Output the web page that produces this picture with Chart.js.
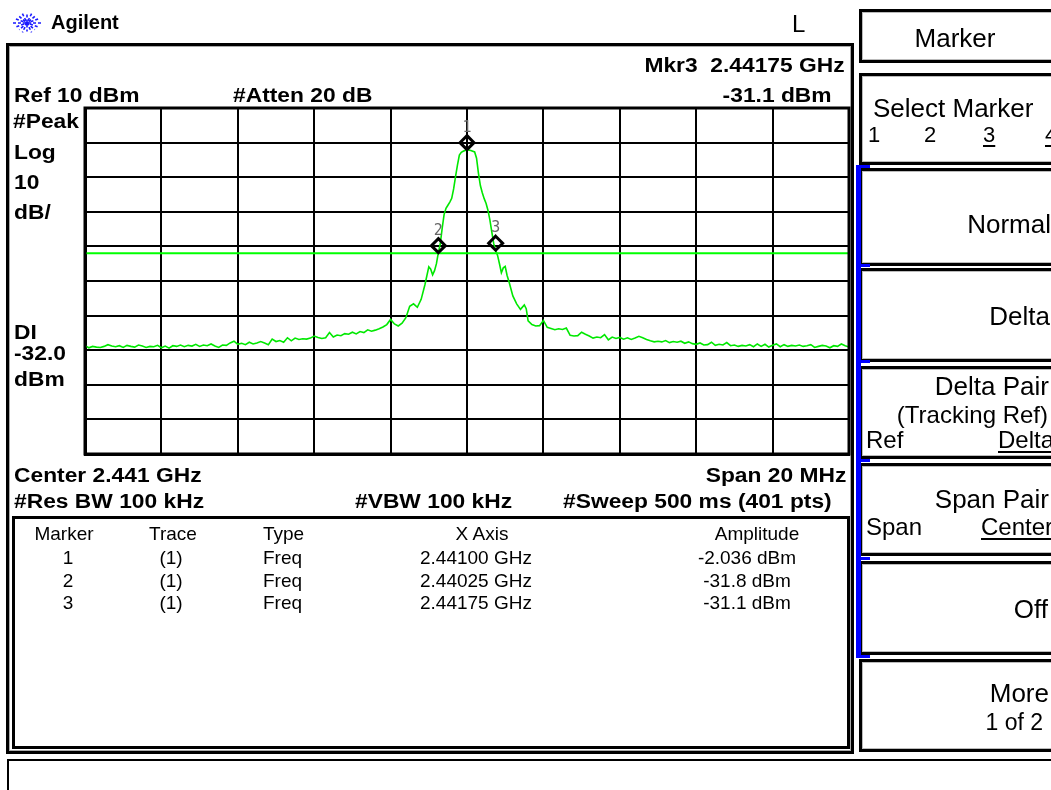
<!DOCTYPE html>
<html>
<head>
<meta charset="utf-8">
<script src="https://cdn.jsdelivr.net/npm/chart.js@4/dist/chart.umd.min.js"></script>
<style>
  html, body { margin: 0; padding: 0; background: #fff; }
  body { width: 1051px; height: 790px; overflow: hidden; position: relative; font-family: "Liberation Sans", Arial, sans-serif; }
  .box { position: absolute; box-sizing: border-box; }
  .t { position: absolute; white-space: pre; color: #000; }
  canvas#c { position: absolute; left: 0; top: 0; z-index: 2; }
</style>
</head>
<body>
<script>
// ---------------- DATA ----------------
const centerMHz = 2441.0;
const spanMHz = 20;
const refLevelDbm = 10;
const dbPerDiv = 10;
const displayLineDbm = -32.0;

const traceFreqMHz = [
  2431.0,2431.1,2431.2,2431.3,2431.4,2431.5,2431.6,2431.7,2431.8,2431.9,
  2432.0,2432.1,2432.2,2432.3,2432.4,2432.5,2432.6,2432.7,2432.8,2432.9,
  2433.0,2433.1,2433.2,2433.3,2433.4,2433.5,2433.6,2433.7,2433.8,2433.9,
  2434.0,2434.1,2434.2,2434.3,2434.4,2434.5,2434.6,2434.7,2434.8,2434.9,
  2435.0,2435.1,2435.2,2435.3,2435.4,2435.5,2435.6,2435.7,2435.8,2435.9,
  2436.0,2436.1,2436.2,2436.3,2436.4,2436.5,2436.6,2436.7,2436.8,2436.9,
  2437.0,2437.1,2437.2,2437.3,2437.4,2437.5,2437.6,2437.7,2437.8,2437.9,
  2438.0,2438.1,2438.2,2438.3,2438.4,2438.5,2438.6,2438.7,2438.8,2438.9,
  2439.0,2439.1,2439.2,2439.3,2439.4,2439.5,2439.6,2439.7,2439.8,2439.9,
  2440.0,2440.05,2440.1,2440.15,2440.2,2440.25,2440.3,2440.35,2440.4,2440.45,2440.5,2440.55,2440.6,2440.65,2440.7,2440.75,2440.8,2440.85,2440.9,
  2441.0,2441.1,2441.2,2441.25,2441.3,2441.35,2441.4,2441.45,2441.5,2441.55,2441.6,2441.65,2441.7,2441.75,2441.8,2441.85,2441.9,2441.95,
  2442.0,2442.05,2442.1,2442.2,2442.3,2442.4,2442.5,2442.55,2442.6,2442.7,2442.8,2442.9,
  2443.0,2443.1,2443.2,2443.3,2443.4,2443.5,2443.6,2443.7,2443.8,2443.9,
  2444.0,2444.1,2444.2,2444.3,2444.4,2444.5,2444.6,2444.7,2444.8,2444.9,
  2445.0,2445.1,2445.2,2445.3,2445.4,2445.5,2445.6,2445.7,2445.8,2445.9,
  2446.0,2446.1,2446.2,2446.3,2446.4,2446.5,2446.6,2446.7,2446.8,2446.9,
  2447.0,2447.1,2447.2,2447.3,2447.4,2447.5,2447.6,2447.7,2447.8,2447.9,
  2448.0,2448.1,2448.2,2448.3,2448.4,2448.5,2448.6,2448.7,2448.8,2448.9,
  2449.0,2449.1,2449.2,2449.3,2449.4,2449.5,2449.6,2449.7,2449.8,2449.9,
  2450.0,2450.1,2450.2,2450.3,2450.4,2450.5,2450.6,2450.7,2450.8,2450.9,
  2451.0
];
const traceLevelDbm = [
  -58.7,-59.3,-58.9,-59.1,-59.2,-58.9,-58.4,-58.8,-59.0,-58.7,
  -59.2,-58.6,-58.9,-59.1,-58.5,-58.8,-59.2,-58.9,-59.0,-58.6,
  -59.3,-58.8,-59.4,-58.7,-58.9,-58.5,-59.0,-58.6,-58.8,-58.3,
  -58.9,-58.5,-58.7,-58.2,-58.8,-59.2,-58.5,-58.6,-57.9,-57.4,
  -58.3,-58.0,-58.4,-57.7,-58.2,-57.9,-57.5,-57.9,-58.4,-56.8,
  -57.5,-57.2,-57.7,-56.4,-57.3,-56.5,-56.9,-56.7,-56.8,-56.5,
  -55.9,-56.3,-56.6,-56.4,-54.9,-56.2,-55.6,-55.8,-55.2,-55.4,
  -54.8,-55.3,-54.6,-54.9,-54.1,-54.5,-54.2,-53.8,-53.3,-52.6,
  -51.1,-52.4,-53.0,-52.2,-50.6,-47.3,-46.6,-47.6,-45.3,-41.0,
  -35.9,-36.6,-38.2,-37.0,-35.0,-31.8,-29.3,-24.8,-20.8,-19.0,-18.1,-17.2,-16.1,-13.4,-9.8,-6.5,-3.6,-2.8,-2.5,
  -2.04,-2.3,-2.7,-4.5,-8.9,-12.4,-14.5,-16.2,-17.6,-19.6,-22.4,-25.9,-29.2,-31.1,-32.6,-35.0,-37.6,-36.2,
  -35.8,-38.4,-40.2,-44.3,-46.6,-48.2,-46.9,-48.0,-51.5,-52.6,-53.0,-52.9,
  -51.4,-53.4,-53.7,-54.1,-53.8,-54.0,-53.6,-55.7,-55.9,-55.8,
  -54.8,-55.4,-55.9,-56.5,-56.2,-56.4,-55.5,-57.0,-56.2,-56.6,
  -56.3,-56.8,-56.4,-56.9,-56.5,-56.0,-56.4,-56.9,-57.3,-57.6,
  -57.4,-57.6,-57.2,-57.8,-57.5,-57.7,-57.4,-58.0,-57.6,-58.1,
  -58.3,-57.9,-58.5,-58.4,-57.7,-58.6,-58.3,-58.5,-57.8,-58.7,
  -58.5,-58.9,-58.6,-58.8,-58.4,-59.0,-58.2,-58.9,-58.3,-59.1,
  -58.6,-58.2,-59.0,-58.4,-58.9,-58.6,-58.8,-58.5,-58.9,-58.7,
  -58.4,-59.2,-58.9,-58.6,-58.8,-59.3,-58.7,-58.9,-58.2,-58.7,
  -59.1
];

const markerNames   = ['1', '2', '3'];
const markerTrace   = ['(1)', '(1)', '(1)'];
const markerType    = ['Freq', 'Freq', 'Freq'];
const markerFreqGHz = [2.44100, 2.44025, 2.44175];
const markerAmpDbm  = [-2.036, -31.8, -31.1];
const markerAmpText = ['-2.036', '-31.8', '-31.1'];
const activeMarker  = 2; // index of Mkr3

// ---------------- LAYOUT HELPERS ----------------
const W = 1051, H = 790;
const FONT = '"Liberation Sans", Arial, Helvetica, sans-serif';
function txt(s, x, y, o) {
  o = o || {};
  const size = o.size || 20;
  const d = document.createElement('div');
  d.className = 't';
  d.textContent = s;
  d.style.font = (o.bold ? 'bold ' : '') + size + 'px ' + FONT;
  d.style.lineHeight = size + 'px';
  d.style.top = (y - 0.8465 * size) + 'px';
  const sx = o.sx || 1;
  const al = o.align || 'left';
  if (al === 'left') { d.style.left = x + 'px'; d.style.transformOrigin = 'left center'; }
  else if (al === 'right') { d.style.right = (W - x) + 'px'; d.style.textAlign = 'right'; d.style.transformOrigin = 'right center'; }
  else { d.style.left = (x - 300) + 'px'; d.style.width = '600px'; d.style.textAlign = 'center'; d.style.transformOrigin = 'center center'; }
  if (sx !== 1) d.style.transform = 'scaleX(' + sx + ')';
  if (o.underline) { d.style.textDecoration = 'underline'; d.style.textUnderlineOffset = '3px'; d.style.textDecorationThickness = '2px'; }
  if (o.color) d.style.color = o.color;
  d.style.zIndex = 3;
  document.body.appendChild(d);
  return d;
}
function box(x, y, w, h, style) {
  const d = document.createElement('div');
  d.className = 'box';
  d.style.left = x + 'px'; d.style.top = y + 'px';
  d.style.width = w + 'px'; d.style.height = h + 'px';
  Object.assign(d.style, style || {});
  document.body.appendChild(d);
  return d;
}

// ---------------- FRAMES ----------------
box(6, 43, 848, 711, { border: '3px solid #000', boxShadow: 'inset 0 0 0 1px #aaa' });
box(12, 516, 838, 233, { border: '3px solid #000' });
box(7, 759, 1060, 60, { border: '2px solid #000' });

// softkeys
const softY = [[9, 54], [73, 92], [168, 98], [268, 94], [366, 93], [463, 93], [561, 94], [659, 93]];
softY.forEach(([y, h]) => box(859, y, 220, h, { border: '3px solid #000', boxShadow: 'inset 0 0 0 1px #bbb' }));
box(856, 165, 5, 492, { background: '#0000ff' });
[165, 264, 360, 459, 557, 655].forEach(y => box(856, y, 14, 3, { background: '#0000ff' }));

// logo
const svgNS = 'http://www.w3.org/2000/svg';
const svg = document.createElementNS(svgNS, 'svg');
svg.setAttribute('width', '32'); svg.setAttribute('height', '28');
svg.style.position = 'absolute'; svg.style.left = '11px'; svg.style.top = '9px';
[[0, 14], [22.5, 12], [45, 11], [67.5, 12], [90, 10], [112.5, 12], [135, 11], [157.5, 12]].forEach(([a, r]) => {
  const rad = a * Math.PI / 180;
  const l = document.createElementNS(svgNS, 'line');
  l.setAttribute('x1', 16 - r * Math.cos(rad)); l.setAttribute('y1', 14 - r * Math.sin(rad) * 0.85);
  l.setAttribute('x2', 16 + r * Math.cos(rad)); l.setAttribute('y2', 14 + r * Math.sin(rad) * 0.85);
  l.setAttribute('stroke', '#1a1aff'); l.setAttribute('stroke-width', '1.6');
  l.setAttribute('stroke-dasharray', '3 2');
  svg.appendChild(l);
});
document.body.appendChild(svg);

// ---------------- TEXTS ----------------
const B = { bold: true, size: 20, sx: 1.14 };
txt('Agilent', 51, 29, { bold: true, size: 20 });
txt('L', 792, 32, { size: 24 });
txt('Mkr' + markerNames[activeMarker] + '  ' + markerFreqGHz[activeMarker].toFixed(5) + ' GHz', 845, 72, Object.assign({ align: 'right' }, B));
txt('Ref ' + refLevelDbm + ' dBm', 14, 102, B);
txt('#Atten 20 dB', 233, 102, B);
txt(markerAmpText[activeMarker] + ' dBm', 832, 102, Object.assign({ align: 'right' }, B));
txt('#Peak', 13, 128, B);
txt('Log', 14, 159, B);
txt(String(dbPerDiv), 14, 189, B);
txt('dB/', 14, 219, B);
txt('DI', 14, 339, B);
txt(displayLineDbm.toFixed(1), 14, 360, B);
txt('dBm', 14, 386, B);
txt('Center ' + (centerMHz / 1000).toFixed(3) + ' GHz', 14, 482, B);
txt('Span ' + spanMHz + ' MHz', 846, 482, Object.assign({ align: 'right' }, B));
txt('#Res BW 100 kHz', 14, 508, B);
txt('#VBW 100 kHz', 355, 508, B);
txt('#Sweep 500 ms (401 pts)', 832, 508, Object.assign({ align: 'right' }, B));

// marker table
const T = { size: 19 };
txt('Marker', 64, 540, Object.assign({ align: 'center' }, T));
txt('Trace', 173, 540, Object.assign({ align: 'center' }, T));
txt('Type', 263, 540, T);
txt('X Axis', 482, 540, Object.assign({ align: 'center' }, T));
txt('Amplitude', 757, 540, Object.assign({ align: 'center' }, T));
const rowY = [564, 587, 609];
markerNames.forEach((n, i) => {
  txt(n, 68, rowY[i], Object.assign({ align: 'center' }, T));
  txt(markerTrace[i], 171, rowY[i], Object.assign({ align: 'center' }, T));
  txt(markerType[i], 263, rowY[i], T);
  txt(markerFreqGHz[i].toFixed(5) + ' GHz', 420, rowY[i], T);
  txt(markerAmpText[i] + ' dBm', 747, rowY[i], Object.assign({ align: 'center' }, T));
});

// softkey labels
const S = { size: 26 };
txt('Marker', 955, 47, Object.assign({ align: 'center' }, S));
txt('Select Marker', 873, 117, S);
txt('1', 868, 143, { size: 22 });
txt('2', 924, 143, { size: 22 });
txt('3', 983, 143, { size: 22, underline: true });
txt('4', 1045, 143, { size: 22, underline: true });
txt('Normal', 1051, 233, Object.assign({ align: 'right' }, S));
txt('Delta', 1050, 325, Object.assign({ align: 'right' }, S));
txt('Delta Pair', 1049, 395, Object.assign({ align: 'right' }, S));
txt('(Tracking Ref)', 1048, 423, { size: 24, align: 'right' });
txt('Ref', 866, 448, { size: 24 });
txt('Delta', 998, 448, { size: 24, underline: true });
txt('Span Pair', 1049, 508, Object.assign({ align: 'right' }, S));
txt('Span', 866, 535, { size: 24 });
txt('Center', 981, 535, { size: 24, underline: true });
txt('Off', 1048, 618, Object.assign({ align: 'right' }, S));
txt('More', 1049, 702, Object.assign({ align: 'right' }, S));
txt('1 of 2', 1043, 730, { size: 23, align: 'right' });

// ---------------- CHART ----------------
const canvas = document.createElement('canvas');
canvas.id = 'c'; canvas.width = W; canvas.height = H;
canvas.style.width = W + 'px'; canvas.style.height = H + 'px';
document.body.appendChild(canvas);

const tracePoints = traceFreqMHz.map((f, i) => ({ x: f, y: traceLevelDbm[i] }));
const xMin = centerMHz - spanMHz / 2, xMax = centerMHz + spanMHz / 2;
const yMax = refLevelDbm, yMin = refLevelDbm - 10 * dbPerDiv;

const frameAndMarkers = {
  id: 'frameAndMarkers',
  afterDraw(chart) {
    const { ctx, chartArea: a, scales: { x, y } } = chart;
    ctx.save();
    ctx.strokeStyle = '#000';
    ctx.lineWidth = 3;
    ctx.strokeRect(a.left, a.top, a.right - a.left, a.bottom - a.top);
    // markers
    markerNames.forEach((n, i) => {
      const px = x.getPixelForValue(markerFreqGHz[i] * 1000);
      const py = y.getPixelForValue(markerAmpDbm[i]);
      const r = 7;
      const cy = py - r;
      ctx.beginPath();
      ctx.moveTo(px, cy - r); ctx.lineTo(px + r, cy); ctx.lineTo(px, cy + r); ctx.lineTo(px - r, cy); ctx.closePath();
      ctx.lineWidth = 3; ctx.lineJoin = 'miter'; ctx.strokeStyle = '#000'; ctx.stroke();
      ctx.fillStyle = '#666';
      ctx.font = '15px "DejaVu Sans Mono", monospace';
      ctx.textAlign = 'center'; ctx.textBaseline = 'alphabetic';
      ctx.fillText(n, px, cy - 11);
    });
    ctx.restore();
  }
};

new Chart(canvas, {
  type: 'line',
  data: {
    datasets: [
      { data: [{ x: xMin, y: displayLineDbm }, { x: xMax, y: displayLineDbm }], borderColor: '#00ff00', borderWidth: 2, pointRadius: 0, tension: 0 },
      { data: tracePoints, borderColor: '#00e800', borderWidth: 1.6, pointRadius: 0, tension: 0 }
    ]
  },
  options: {
    responsive: false,
    animation: false,
    devicePixelRatio: 1,
    layout: { padding: { left: 85, top: 108, right: W - 849, bottom: H - 454 } },
    plugins: { legend: { display: false }, tooltip: { enabled: false } },
    scales: {
      x: {
        type: 'linear', min: xMin, max: xMax,
        ticks: { display: false, stepSize: spanMHz / 10 },
        grid: { color: '#000', lineWidth: 2, drawTicks: false },
        border: { display: true, color: '#000', width: 3 }
      },
      y: {
        type: 'linear', min: yMin, max: yMax,
        ticks: { display: false, stepSize: dbPerDiv },
        grid: { color: '#000', lineWidth: 2, drawTicks: false },
        border: { display: true, color: '#000', width: 3 }
      }
    }
  },
  plugins: [frameAndMarkers]
});
</script>
</body>
</html>
